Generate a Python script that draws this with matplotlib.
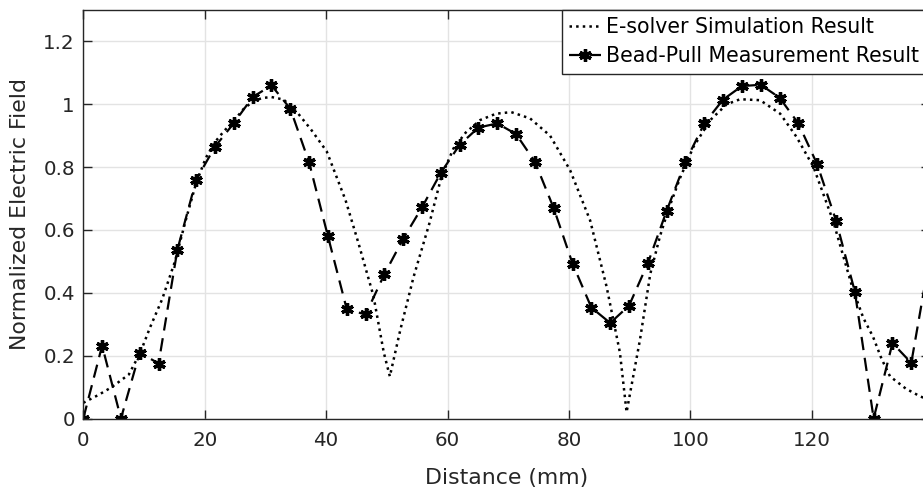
import matplotlib
matplotlib.use("Agg")
import matplotlib.pyplot as plt
from matplotlib.ticker import FuncFormatter

# E-solver simulated field profile along the cavity axis
sim_x = [0, 2.5, 4.7, 7.5, 9.4, 11.0, 13.0, 15.1, 17.0, 18.6, 20.2, 21.7, 23.2,
         24.7, 26.4, 28.0, 29.5, 31.0, 33.0, 35.2, 37.5, 40.1, 43.2, 45.3, 47.8,
         49.5, 50.5, 52.2, 54.4, 57.0, 59.0, 61.0, 63.0, 65.4, 68.0, 70.5, 73.6,
         76.9, 80.2, 83.5, 86.2, 88.4, 89.5, 91.7, 93.4, 95.0, 96.3, 98.3, 100.5,
         103.3, 106.0, 108.2, 111.5, 114.8, 117.5, 120.3, 123.5, 126.8, 128.5,
         130.1, 131.5, 132.9, 135.5, 137.9, 140.0]
sim_y = [0.05, 0.075, 0.10, 0.14, 0.21, 0.29, 0.38, 0.50, 0.64, 0.75, 0.83, 0.88, 0.915,
         0.945, 0.985, 1.01, 1.02, 1.023, 1.015, 0.975, 0.92, 0.85, 0.695, 0.56, 0.39,
         0.21, 0.134, 0.28, 0.45, 0.62, 0.77, 0.86, 0.91, 0.95, 0.97, 0.975, 0.955,
         0.90, 0.79, 0.63, 0.42, 0.21, 0.02, 0.25, 0.46, 0.58, 0.66, 0.765, 0.864,
         0.95, 1.0, 1.016, 1.013, 0.97, 0.896, 0.80, 0.63, 0.41, 0.32,
         0.26, 0.19, 0.134, 0.095, 0.07, 0.055]

# Bead-pull measured field profile
meas_x = [0, 3.1, 6.2, 9.3, 12.4, 15.5, 18.6, 21.7, 24.8, 27.9, 31.0, 34.1,
          37.2, 40.3, 43.4, 46.5, 49.6, 52.7, 55.8, 58.9, 62.0, 65.1, 68.2,
          71.3, 74.4, 77.5, 80.6, 83.7, 86.8, 89.9, 93.0, 96.1, 99.2, 102.3,
          105.4, 108.5, 111.6, 114.7, 117.8, 120.9, 124.0, 127.1, 130.2, 133.3,
          136.4, 139.5]
meas_y = [0, 0.232, 0, 0.21, 0.175, 0.537, 0.76, 0.865, 0.94, 1.023, 1.06, 0.986,
          0.815, 0.58, 0.348, 0.331, 0.459, 0.572, 0.672, 0.782, 0.871, 0.926, 0.939,
          0.905, 0.817, 0.669, 0.493, 0.353, 0.304, 0.359, 0.494, 0.661, 0.817, 0.939,
          1.015, 1.058, 1.062, 1.021, 0.939, 0.809, 0.63, 0.404, 0, 0.24,
          0.177, 0.52]

x_ticks = [0, 20, 40, 60, 80, 100, 120]
y_ticks = [0, 0.2, 0.4, 0.6, 0.8, 1.0, 1.2]

plt.rcParams["font.family"] = ["DejaVu Sans"]

W, H = 923, 494
fig = plt.figure(figsize=(W / 100, H / 100), dpi=100)
# axes box in pixels: x from 83 (running past the right edge), y from 418 up to 10
ax_w = 846.8
ax_h = 408.5
ax = fig.add_axes([83.3 / W, 75.5 / H, ax_w / W, ax_h / H])

axis_col = "#262626"
ax.set_xlim(0, 139.5)
ax.set_ylim(0, 1.3)
ax.set_xticks(x_ticks)
ax.set_yticks(y_ticks)
ax.yaxis.set_major_formatter(FuncFormatter(lambda v, p: f"{v:g}"))
ax.grid(True, color="#e3e3e3", linewidth=1.0)
ax.set_axisbelow(True)
for s in ax.spines.values():
    s.set_color(axis_col)
    s.set_linewidth(1.0)
ax.tick_params(direction="in", length=6.5, width=1.0, color=axis_col,
               labelcolor=axis_col, labelsize=14.3, top=True, right=True)
ax.tick_params(axis="x", pad=9)
ax.tick_params(axis="y", pad=6)

ax.plot(sim_x, sim_y, linestyle=":", color="black", linewidth=1.8,
        label="E-solver Simulation Result")
ax.plot(meas_x, meas_y, linestyle=(0, (6, 3.5)), color="black", linewidth=1.6,
        marker=(6, 2, 0), markersize=9, markeredgewidth=2.4,
        markeredgecolor="black", markerfacecolor="black",
        label="Bead-Pull Measurement Result")

ax.set_xlabel("Distance (mm)", fontsize=15.8, color=axis_col)
ax.set_ylabel("Normalized Electric Field", fontsize=15.8, color=axis_col)
ax.xaxis.set_label_coords(0.5, -(468 - 418.5) / ax_h)
ax.yaxis.set_label_coords((30 - 83.3) / ax_w, 0.5)

leg = ax.legend(loc="upper left", bbox_to_anchor=(562 / W, 1 - 10 / H),
                bbox_transform=fig.transFigure, borderaxespad=0,
                fontsize=14.8, frameon=True, fancybox=False,
                handlelength=1.55, handletextpad=0.25, borderpad=0.35,
                labelspacing=0.45, numpoints=1)
leg.get_frame().set_edgecolor(axis_col)
leg.get_frame().set_linewidth(1.0)
leg.get_frame().set_alpha(1.0)

fig.savefig("out.png", dpi=100)
